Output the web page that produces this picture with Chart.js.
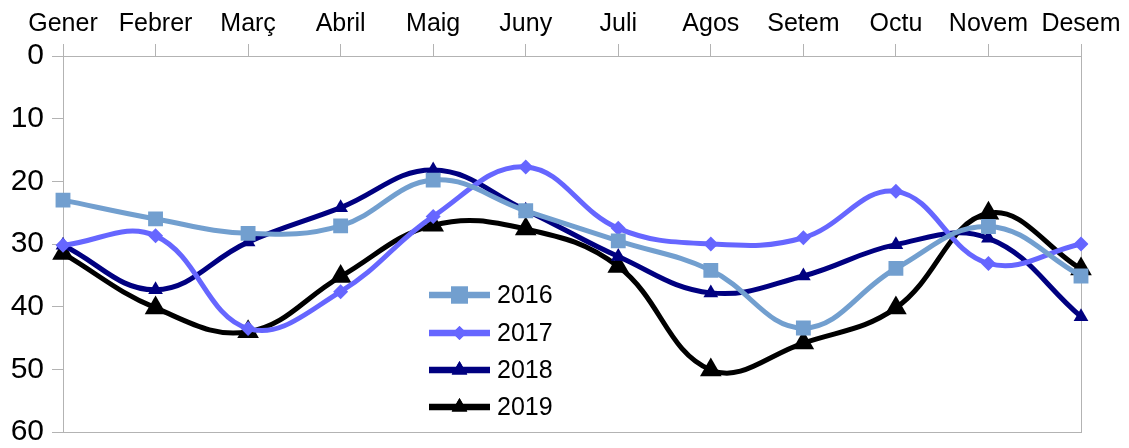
<!DOCTYPE html>
<html>
<head>
<meta charset="utf-8">
<script src="https://cdn.jsdelivr.net/npm/chart.js@4.4.1/dist/chart.umd.min.js"></script>
<style>
html,body{margin:0;padding:0;background:#fff;}
#wrap{width:1129px;height:448px;}
</style>
</head>
<body>
<div id="wrap"><canvas id="c" width="1129" height="448"></canvas></div>
<script>
const months = ["Gener","Febrer","Març","Abril","Maig","Juny","Juli","Agos","Setem","Octu","Novem","Desem"];
const s2016 = [23, 26, 28.3, 27.1, 19.8, 24.7, 29.5, 34.2, 43.4, 33.9, 27.2, 35.1];
const s2017 = [30.2, 28.7, 43.5, 37.6, 25.6, 17.7, 27.5, 30, 29, 21.6, 33.1, 30];
const s2018 = [30.2, 37.3, 29.7, 24.2, 18.2, 24.6, 32, 37.8, 35.1, 30.1, 29.1, 41.6];
const s2019 = [31.5, 40.2, 44, 35.2, 27, 27.6, 33.6, 50.1, 45.8, 40.2, 25.1, 34];
const yTicks = [0, 10, 20, 30, 40, 50, 60];

const FONT = "'Liberation Sans', Arial, sans-serif";
const GRAY = '#b3b3b3';

const datasets = [
  {label:'2016', data:s2016, borderColor:'#729fcf', backgroundColor:'#729fcf', pointStyle:'rect', pointRadius:10.5, legendR:12},
  {label:'2017', data:s2017, borderColor:'#6666ff', backgroundColor:'#6666ff', pointStyle:'rectRot', pointRadius:7.5, legendR:7},
  {label:'2018', data:s2018, borderColor:'#000080', backgroundColor:'#000080', pointStyle:'triangle', pointRadius:8.5, legendR:9},
  {label:'2019', data:s2019, borderColor:'#000000', backgroundColor:'#000000', pointStyle:'triangle', pointRadius:12.5, legendR:9}
].map(d => Object.assign({
  borderWidth:5, tension:0.4, pointBorderWidth:0, pointHoverRadius:d.pointRadius, fill:false
}, d));

const frame = {
  id:'frame',
  beforeDatasetsDraw(chart){
    const a = chart.chartArea, ctx = chart.ctx;
    ctx.save();
    ctx.strokeStyle = GRAY; ctx.lineWidth = 1;
    ctx.strokeRect(Math.round(a.left)+0.5, Math.round(a.top)+0.5, Math.round(a.right-a.left), Math.round(a.bottom-a.top));
    ctx.restore();
  }
};

const customLegend = {
  id:'customLegend',
  afterDraw(chart){
    const ctx = chart.ctx;
    const x0 = 429, x1 = 490, tx = 497;
    const ys = [295, 333, 370, 407];
    ctx.save();
    chart.data.datasets.forEach((d, i) => {
      const y = ys[i];
      ctx.strokeStyle = d.borderColor; ctx.lineWidth = 6.5;
      ctx.beginPath(); ctx.moveTo(x0, y); ctx.lineTo(x1, y); ctx.stroke();
      ctx.fillStyle = d.backgroundColor;
      Chart.helpers.drawPoint(ctx, {pointStyle:d.pointStyle, radius:d.legendR, rotation:0, borderWidth:0}, (x0+x1)/2, y);
      ctx.fill();
      ctx.fillStyle = '#000';
      ctx.font = '25px ' + FONT;
      ctx.textBaseline = 'middle'; ctx.textAlign = 'left';
      ctx.fillText(d.label, tx, y + 1);
    });
    ctx.restore();
  }
};

new Chart(document.getElementById('c'), {
  type:'line',
  data:{labels:months, datasets:datasets},
  options:{
    responsive:false,
    animation:false,
    layout:{padding:{left:0, right:48, top:0, bottom:16}},
    plugins:{legend:{display:false}, tooltip:{enabled:false}},
    scales:{
      x:{
        type:'category', position:'top', offset:false,
        grid:{drawOnChartArea:false, color:GRAY, tickLength:12, tickColor:GRAY},
        border:{color:GRAY},
        ticks:{color:'#000', font:{family:FONT, size:25}, maxRotation:0, autoSkip:false, padding:5},
        afterFit(s){ s.height = 56; s.paddingLeft = 0; s.paddingRight = 0; }
      },
      y:{
        reverse:true, min:0, max:60,
        afterBuildTicks(s){ s.ticks = yTicks.map(v => ({value:v})); },
        grid:{drawOnChartArea:false, color:GRAY, tickLength:11, tickColor:GRAY},
        border:{color:GRAY},
        ticks:{color:'#000', font:{family:FONT, size:30}, padding:8},
        afterFit(s){ s.width = 63; s.paddingTop = 0; s.paddingBottom = 0; }
      }
    }
  },
  plugins:[frame, customLegend]
});
</script>
</body>
</html>
